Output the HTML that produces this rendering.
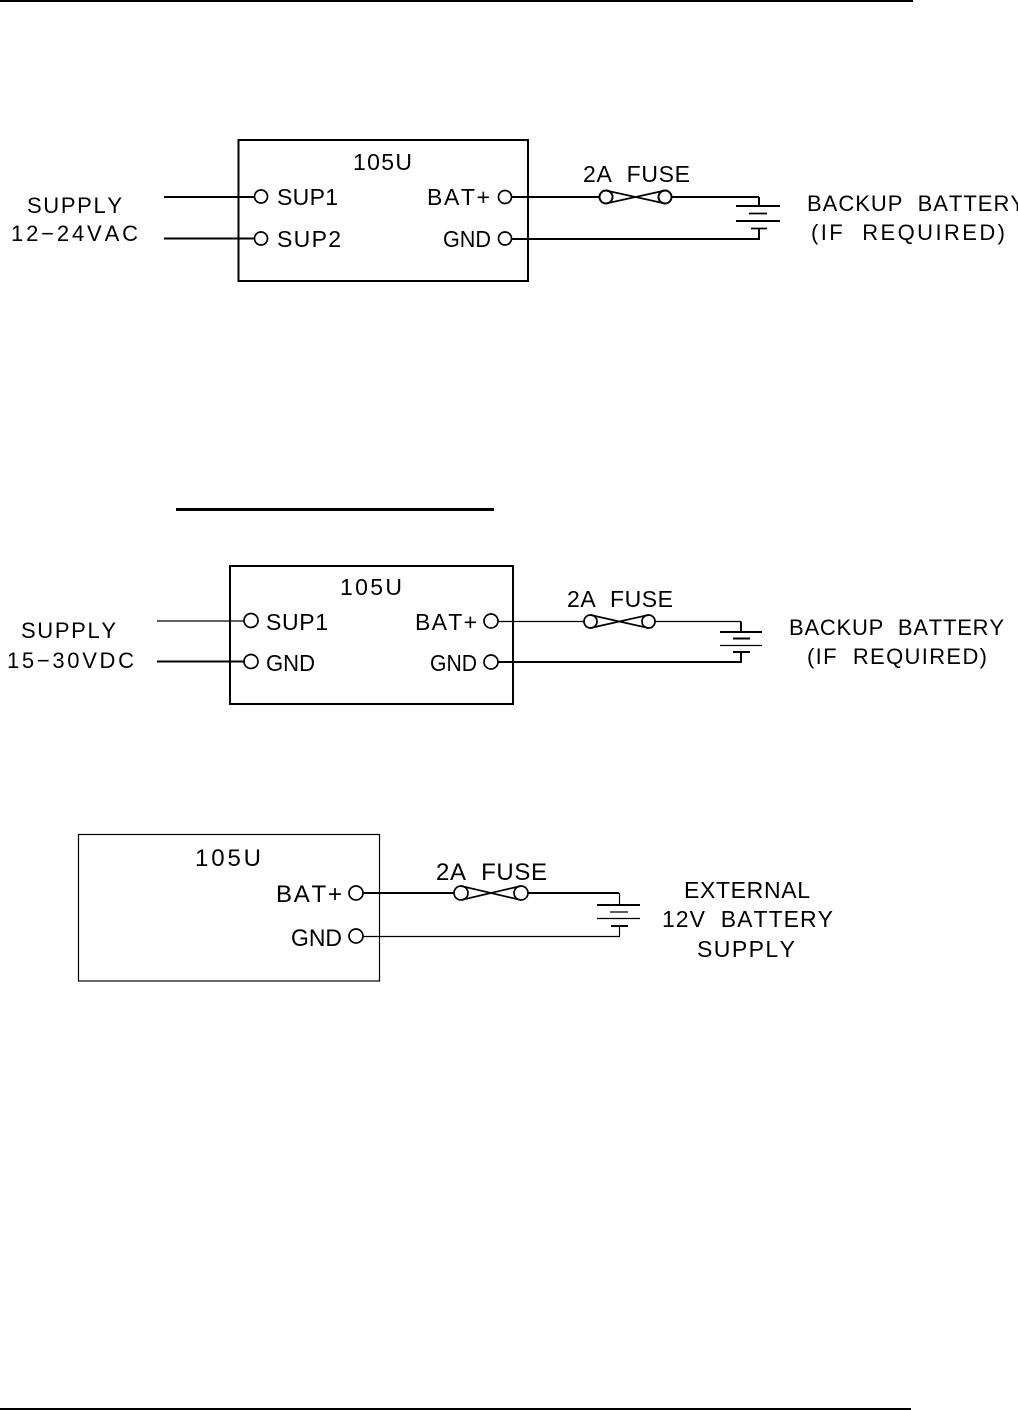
<!DOCTYPE html>
<html>
<head>
<meta charset="utf-8">
<style>
html,body{margin:0;padding:0;background:#fff;width:1018px;height:1410px;overflow:hidden}
svg{display:block}
text{font-family:"Liberation Sans",sans-serif;font-size:23px;fill:#000;font-kerning:none}
text.s{font-size:22px}
text.b{font-size:24px}
</style>
</head>
<body>
<svg width="1018" height="1410" viewBox="0 0 1018 1410" xmlns="http://www.w3.org/2000/svg">
<g fill="none" stroke="#000" stroke-width="1.7">
<line x1="0" y1="1" x2="913" y2="1" stroke-width="2"/>
<line x1="0" y1="1409" x2="911" y2="1409" stroke-width="2"/>
<line x1="176" y1="509.5" x2="494" y2="509.5" stroke-width="3"/>

<!-- Diagram 1 -->
<rect x="238.500" y="140" width="289.500" height="141" stroke-width="2"/>
<line x1="164" y1="197" x2="254" y2="197" stroke-width="2"/>
<line x1="164" y1="238.500" x2="254" y2="238.500" stroke-width="2"/>
<circle cx="261" cy="196.500" r="6.500"/>
<circle cx="261" cy="238.500" r="6.500"/>
<circle cx="505" cy="197" r="6.500"/>
<circle cx="505" cy="238.500" r="6.500"/>
<line x1="512" y1="197" x2="600" y2="197" stroke-width="2"/>
<line x1="671" y1="197" x2="759" y2="197" stroke-width="2"/>
<circle cx="606" cy="197" r="6.500" stroke-width="2"/>
<circle cx="665" cy="197" r="6.500" stroke-width="2"/>
<path d="M606 190.500L665 203.500M606 203.500L665 190.500"/>
<line x1="512" y1="239" x2="760" y2="239" stroke-width="2"/>
<path d="M759 197V206M759 228V239" stroke-width="2"/>
<line x1="736" y1="206" x2="780" y2="206" stroke-width="2"/>
<line x1="749" y1="213.500" x2="767" y2="213.500"/>
<line x1="736" y1="221" x2="780" y2="221" stroke-width="2"/>
<line x1="751" y1="228.500" x2="767" y2="228.500"/>

<!-- Diagram 2 -->
<rect x="230" y="566" width="283" height="138" stroke-width="2"/>
<line x1="157" y1="621" x2="244" y2="621" stroke-width="1.200"/>
<line x1="157" y1="661.500" x2="244" y2="661.500" stroke-width="2"/>
<circle cx="251" cy="620.500" r="7"/>
<circle cx="251" cy="661.500" r="7"/>
<circle cx="491" cy="621" r="7"/>
<circle cx="491" cy="662" r="7"/>
<line x1="498" y1="621.500" x2="584" y2="621.500" stroke-width="1.200"/>
<line x1="655" y1="621.500" x2="741" y2="621.500" stroke-width="1.200"/>
<circle cx="590.500" cy="621.500" r="6.500"/>
<circle cx="648.500" cy="621.500" r="6.500"/>
<path d="M590.500 615L648.500 628M590.500 628L648.500 615"/>
<line x1="498" y1="662" x2="742" y2="662" stroke-width="2"/>
<path d="M741 621.500V632M741 652V662" stroke-width="2"/>
<line x1="720" y1="632" x2="762" y2="632" stroke-width="2"/>
<line x1="733" y1="638.500" x2="750" y2="638.500" stroke-width="2"/>
<line x1="720" y1="645.500" x2="762" y2="645.500" stroke-width="1.200"/>
<line x1="733" y1="652" x2="750" y2="652" stroke-width="2"/>

<!-- Diagram 3 -->
<rect x="78.500" y="834.500" width="301" height="146.500" stroke-width="1.200"/>
<circle cx="356" cy="893" r="7"/>
<circle cx="356" cy="936" r="7"/>
<line x1="363" y1="893" x2="454" y2="893" stroke-width="2"/>
<line x1="528" y1="893" x2="619" y2="893" stroke-width="2"/>
<circle cx="461" cy="893" r="7"/>
<circle cx="521" cy="893" r="7"/>
<path d="M461 886L521 900M461 900L521 886"/>
<line x1="363" y1="936.500" x2="620" y2="936.500" stroke-width="1.200"/>
<path d="M619.500 893V905M619.500 926V936" stroke-width="1.200"/>
<line x1="597" y1="905" x2="640" y2="905" stroke-width="2"/>
<line x1="610" y1="912" x2="628" y2="912" stroke-width="1.200"/>
<line x1="597" y1="918.500" x2="640" y2="918.500" stroke-width="1.200"/>
<line x1="611" y1="926" x2="628" y2="926" stroke-width="2"/>
</g>

<!-- Diagram 1 labels -->
<text class="s" x="27" y="213" textLength="95">SUPPLY</text>
<text class="s" x="11" y="241" textLength="127">12−24VAC</text>
<text x="353" y="170" textLength="59">105U</text>
<text x="277" y="205" textLength="61">SUP1</text>
<text x="277" y="247" textLength="64">SUP2</text>
<text x="427" y="205" textLength="63">BAT+</text>
<text x="443" y="247" textLength="48" lengthAdjust="spacingAndGlyphs">GND</text>
<text x="583" y="182" textLength="107">2A&#160;&#160;FUSE</text>
<text class="s" x="807" y="211" textLength="218">BACKUP&#160;&#160;BATTERY</text>
<text class="s" x="811" y="240" textLength="194">(IF&#160;&#160;REQUIRED)</text>

<!-- Diagram 2 labels -->
<text class="s" x="21" y="638" textLength="95">SUPPLY</text>
<text class="s" x="7" y="668" textLength="127">15−30VDC</text>
<text x="340" y="595" textLength="62">105U</text>
<text x="266" y="630" textLength="62">SUP1</text>
<text x="266" y="671" textLength="49" lengthAdjust="spacingAndGlyphs">GND</text>
<text x="415" y="630" textLength="62">BAT+</text>
<text x="430" y="671" textLength="47" lengthAdjust="spacingAndGlyphs">GND</text>
<text x="567" y="607" textLength="106">2A&#160;&#160;FUSE</text>
<text class="s" x="789" y="635" textLength="215">BACKUP&#160;&#160;BATTERY</text>
<text class="s" x="807" y="664" textLength="180">(IF&#160;&#160;REQUIRED)</text>

<!-- Diagram 3 labels -->
<text class="b" x="195" y="866" textLength="66">105U</text>
<text class="b" x="276" y="902" textLength="66">BAT+</text>
<text class="b" x="291" y="946" textLength="51" lengthAdjust="spacingAndGlyphs">GND</text>
<text class="b" x="436" y="880" textLength="111">2A&#160;&#160;FUSE</text>
<text x="684" y="898" textLength="126">EXTERNAL</text>
<text x="662" y="927" textLength="171">12V&#160;&#160;BATTERY</text>
<text x="697" y="957" textLength="98">SUPPLY</text>
</svg>
</body>
</html>
